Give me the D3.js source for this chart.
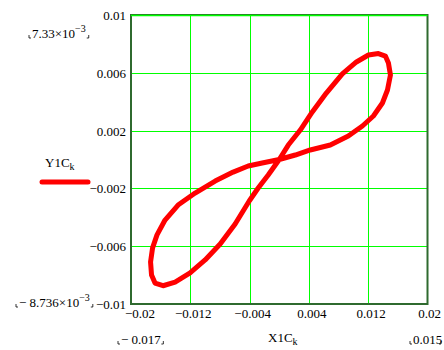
<!DOCTYPE html>
<head>
  <meta charset="utf-8" />
  <script src="https://d3js.org/d3.v7.min.js"></script>
  <style>
    body { margin: 0; background: #fff; }
    svg text { font-family: "Liberation Serif", "DejaVu Serif", serif; font-size: 13px; fill: #000; }
  </style>
</head>
<body>
  <div id="chart"></div>
  <script>
    // valeurs (courbe en huit)
    const X1C = [0, 0.00122, 0.00284, 0.00446, 0.00635, 0.00851, 0.01041, 0.01203, 0.01338, 0.01432,
      0.01473, 0.0150, 0.01460, 0.01392, 0.01270, 0.01122, 0.00932, 0.00689, 0.00419, 0.00216,
      0, -0.00230, -0.00419, -0.00622, -0.00865, -0.01135, -0.01365, -0.01541, -0.01649, -0.01709,
      -0.01736, -0.01723, -0.01676, -0.01568, -0.01405, -0.01203, -0.01000, -0.00797, -0.00595, -0.00405,
      -0.00284, -0.00149, 0];
    const Y1C = [0, 0.00100, 0.00204, 0.00329, 0.00460, 0.00592, 0.00675, 0.00723, 0.00733, 0.00716,
      0.00668, 0.00585, 0.00481, 0.00391, 0.00301, 0.00232, 0.00163, 0.00100, 0.00066, 0.00031,
      0, -0.00024, -0.00045, -0.00087, -0.00149, -0.00232, -0.00315, -0.00419, -0.00522, -0.00612,
      -0.00709, -0.00799, -0.00855, -0.008736, -0.00848, -0.00785, -0.00695, -0.00585, -0.00446, -0.00287,
      -0.00197, -0.00107, 0];
    const xTicks = [-0.02, -0.012, -0.004, 0.004, 0.012, 0.02];
    const yTicks = [-0.01, -0.006, -0.002, 0.002, 0.006, 0.01];
    const xTickLabels = ["\u22120.02", "\u22120.012", "\u22120.004", "0.004", "0.012", "0.02"];
    const yTickLabels = ["\u22120.01", "\u22120.006", "\u22120.002", "0.002", "0.006", "0.01"];

    const width = 444, height = 350;
    const svg = d3.select("#chart").append("svg")
      .attr("width", width).attr("height", height);

    const x = d3.scaleLinear().domain([-0.02, 0.02]).range([131, 427.5]);
    const y = d3.scaleLinear().domain([-0.01, 0.01]).range([304, 15]);

    // grille
    const grid = svg.append("g").attr("shape-rendering", "crispEdges");
    grid.selectAll(".gx").data(xTicks.slice(1, -1)).join("line")
      .attr("x1", d => Math.round(x(d)) + 0.5).attr("x2", d => Math.round(x(d)) + 0.5)
      .attr("y1", y(0.01)).attr("y2", y(-0.01))
      .style("stroke", "#00ff00");
    grid.selectAll(".gy").data(yTicks.slice(1, -1)).join("line")
      .attr("y1", d => Math.round(y(d)) + 0.5).attr("y2", d => Math.round(y(d)) + 0.5)
      .attr("x1", x(-0.02)).attr("x2", x(0.02))
      .style("stroke", "#00ff00");

    // cadre
    svg.append("rect")
      .attr("x", x(-0.02)).attr("y", y(0.01))
      .attr("width", x(0.02) - x(-0.02)).attr("height", y(-0.01) - y(0.01))
      .style("fill", "none").style("stroke", "#2f6a2f").style("stroke-width", 2);
    svg.append("line")
      .attr("x1", x(-0.02)).attr("x2", x(0.02))
      .attr("y1", y(0.01) + 0.5).attr("y2", y(0.01) + 0.5)
      .style("stroke", "#00ff00").style("stroke-width", 1.5);

    // courbe
    const line = d3.line().x(d => x(d[0])).y(d => y(d[1]));
    svg.append("path")
      .datum(X1C.map((v, i) => [v, Y1C[i]]))
      .attr("d", line)
      .style("fill", "none").style("stroke", "#ff0000")
      .style("stroke-width", 5).style("stroke-linejoin", "round");

    // etiquettes des axes
    svg.append("g").selectAll("text").data(yTicks).join("text")
      .attr("x", 126).attr("y", d => y(d) + 5)
      .attr("text-anchor", "end")
      .text((d, i) => yTickLabels[i]);

    svg.append("g").selectAll("text").data(xTicks).join("text")
      .attr("x", (d, i) => i === 0 ? x(d) + 9 : (i === xTicks.length - 1 ? x(d) + 2 : x(d) + 3))
      .attr("y", 318)
      .attr("text-anchor", "middle")
      .text((d, i) => xTickLabels[i]);

    // petits coins de Mathcad
    function corner(px, py, left) {
      svg.append("path")
        .attr("d", left ? `M${px},${py - 3}V${py}h2` : `M${px},${py - 3}V${py}h-2`)
        .style("stroke", "#000").style("stroke-width", 0.8).style("fill", "none");
    }

    function sciLabel(px, py, mant) {
      const t = svg.append("text").attr("x", px).attr("y", py);
      t.append("tspan").text(mant + "\u00d710");
      t.append("tspan").attr("dy", -6).style("font-size", "10px").text("\u22123");
      const b = t.node().getBBox();
      corner(px - 3, py, true);
      corner(b.x + b.width + 3, py, false);
    }
    sciLabel(32, 38, "7.33");
    sciLabel(19, 307, "\u2212 8.736");

    // bornes x
    const xmin = svg.append("text").attr("x", 121).attr("y", 344).text("\u2212 0.017");
    corner(118, 344, true);
    corner(xmin.node().getBBox().x + xmin.node().getBBox().width + 2, 344, false);
    svg.append("text").attr("x", 413).attr("y", 344).text("0.015");
    corner(410, 344, true);
    corner(441, 344, false);

    // titres
    const xl = svg.append("text").attr("x", 268).attr("y", 342);
    xl.append("tspan").text("X1C");
    xl.append("tspan").attr("dy", 3).style("font-size", "10px").text("k");

    const yl = svg.append("text").attr("x", 45).attr("y", 167);
    yl.append("tspan").text("Y1C");
    yl.append("tspan").attr("dy", 3).style("font-size", "10px").text("k");

    // legende
    svg.append("line")
      .attr("x1", 42).attr("x2", 88).attr("y1", 182).attr("y2", 182)
      .style("stroke", "#ff0000").style("stroke-width", 5).style("stroke-linecap", "round");
  </script>
</body>
